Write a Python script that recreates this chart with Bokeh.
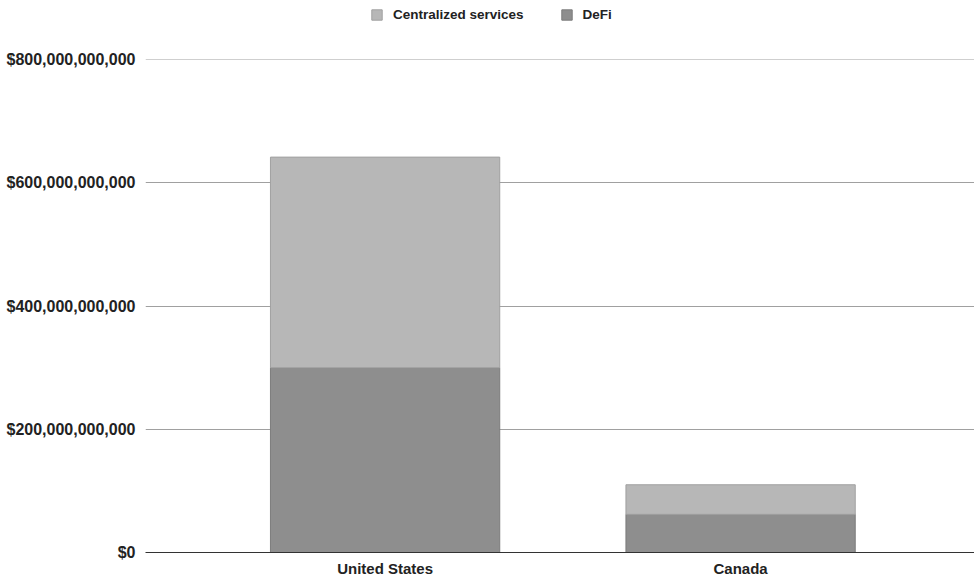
from bokeh.plotting import figure
from bokeh.layouts import column
from bokeh.models import (ColumnDataSource, Range1d, FixedTicker, NumeralTickFormatter,
                          Legend, LegendItem)
from bokeh.embed import file_html
from bokeh.resources import INLINE

# Value held per country, in US dollars
countries = ["United States", "Canada"]
defi = [300e9, 62e9]
centralized = [342e9, 48e9]
y_ticks = [0, 200e9, 400e9, 600e9, 800e9]
series_names = ["Centralized services", "DeFi"]
series_colors = {"Centralized services": "#b7b7b7", "DeFi": "#8e8e8e"}
series_edges = {"Centralized services": "#a0a0a0", "DeFi": "#7c7c7c"}

x_pos = [i + 0.5 for i in range(len(countries))]
source = ColumnDataSource(dict(x=x_pos, defi=defi, centralized=centralized))

FONT = "Liberation Sans"
TEXT = "#222222"

# ---- main chart -------------------------------------------------------
p = figure(width=974, height=539, output_backend="svg", toolbar_location=None,
           x_range=Range1d(-0.174, 2.158), y_range=Range1d(0, 800.5e9),
           min_border_left=145, min_border_right=0, min_border_top=19,
           min_border_bottom=27)
p.outline_line_color = None
p.background_fill_color = "white"

renderers = p.vbar_stack(["defi", "centralized"], x="x", width=0.645, source=source,
                         fill_color=[series_colors["DeFi"], series_colors["Centralized services"]],
                         line_color=[series_edges["DeFi"], series_edges["Centralized services"]],
                         line_width=1)

p.yaxis.ticker = FixedTicker(ticks=y_ticks)
p.yaxis.formatter = NumeralTickFormatter(format="$0,0")
p.yaxis.axis_line_color = None
p.yaxis.major_tick_line_color = None
p.yaxis.major_tick_out = 0
p.yaxis.major_tick_in = 0
p.yaxis.minor_tick_line_color = None
p.yaxis.major_label_text_font = FONT
p.yaxis.major_label_text_font_style = "bold"
p.yaxis.major_label_text_font_size = "16px"
p.yaxis.major_label_text_color = TEXT
p.yaxis.major_label_standoff = 10

p.xaxis.ticker = FixedTicker(ticks=x_pos)
p.xaxis.major_label_overrides = {x: c for x, c in zip(x_pos, countries)}
p.xaxis.axis_line_color = "#333333"
p.xaxis.axis_line_width = 1
p.xaxis.major_tick_line_color = None
p.xaxis.major_tick_out = 0
p.xaxis.major_tick_in = 0
p.xaxis.minor_tick_line_color = None
p.xaxis.major_label_text_font = FONT
p.xaxis.major_label_text_font_style = "bold"
p.xaxis.major_label_text_font_size = "15px"
p.xaxis.major_label_text_color = TEXT
p.xaxis.major_label_standoff = 7

p.xgrid.grid_line_color = None
p.ygrid.grid_line_color = "#a0a0a0"
p.ygrid.grid_line_width = 1.2

# ---- legend strip above the chart -------------------------------------
lg = figure(width=974, height=40, output_backend="svg", toolbar_location=None,
            x_range=Range1d(0, 1), y_range=Range1d(0, 1),
            min_border=0, min_border_left=0, min_border_right=0,
            min_border_top=0, min_border_bottom=0)
lg.axis.visible = False
lg.grid.visible = False
lg.outline_line_color = None

swatches = []
for name in series_names:
    # off-range bar, only used to draw the legend swatch
    r = lg.vbar(x=[-10], top=[-10], bottom=[-11], width=0.1,
                fill_color=series_colors[name], line_color=series_edges[name])
    swatches.append(LegendItem(label=name, renderers=[r]))

legend = Legend(items=swatches, orientation="horizontal", location=(225, 18),
                label_text_font=FONT, label_text_font_style="bold",
                label_text_font_size="13.5px", label_text_color=TEXT,
                glyph_width=13, glyph_height=13, label_standoff=10, spacing=36,
                border_line_color=None, background_fill_alpha=0,
                margin=0, padding=5)
lg.add_layout(legend)

layout = column(lg, p, spacing=0)
open("out.html", "w").write(file_html(layout, INLINE))
